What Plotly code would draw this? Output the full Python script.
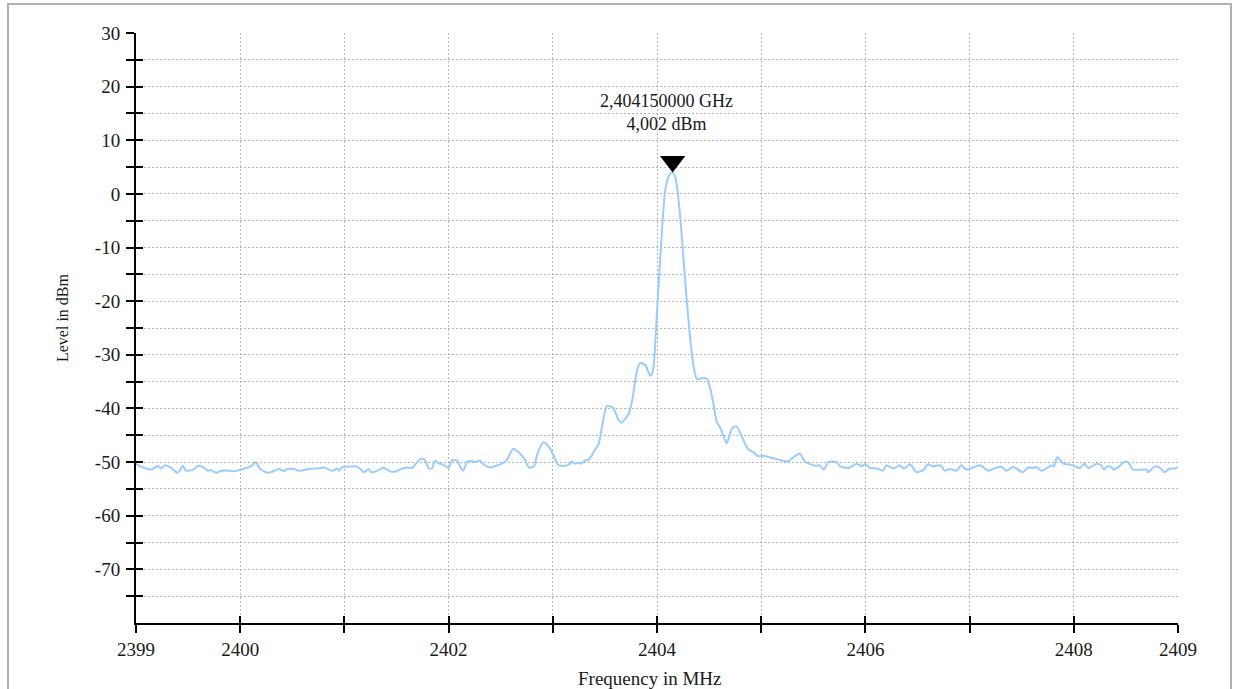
import plotly.graph_objects as go

# ---------------- data ----------------
freq_mhz = [
    2399.00, 2399.04, 2399.08, 2399.15, 2399.21, 2399.24, 2399.28, 2399.34, 2399.40, 2399.45,
    2399.48, 2399.55, 2399.60, 2399.65, 2399.69, 2399.72, 2399.77, 2399.82, 2399.90, 2399.95,
    2400.00, 2400.06, 2400.11, 2400.15, 2400.19, 2400.27, 2400.32, 2400.37, 2400.42, 2400.45,
    2400.52, 2400.56, 2400.66, 2400.77, 2400.81, 2400.85, 2400.89, 2400.93, 2400.95, 2400.98,
    2401.08, 2401.11, 2401.16, 2401.19, 2401.23, 2401.26, 2401.32, 2401.37, 2401.40, 2401.45,
    2401.50, 2401.53, 2401.60, 2401.65, 2401.69, 2401.73, 2401.76, 2401.78, 2401.81, 2401.84,
    2401.87, 2401.90, 2401.95, 2402.00, 2402.03, 2402.08, 2402.11, 2402.14, 2402.18, 2402.23,
    2402.26, 2402.30, 2402.34, 2402.40, 2402.47, 2402.52, 2402.56, 2402.62, 2402.68, 2402.73,
    2402.77, 2402.82, 2402.85, 2402.91, 2402.97, 2403.02, 2403.05, 2403.11, 2403.16, 2403.18,
    2403.21, 2403.24, 2403.27, 2403.31, 2403.35, 2403.39, 2403.44, 2403.47, 2403.52, 2403.58,
    2403.63, 2403.66, 2403.73, 2403.76, 2403.81, 2403.84, 2403.89, 2403.935, 2403.96, 2403.98,
    2404.00, 2404.03, 2404.055, 2404.075, 2404.10, 2404.125, 2404.15, 2404.175, 2404.20, 2404.225,
    2404.255, 2404.285, 2404.32, 2404.35, 2404.38, 2404.41, 2404.44, 2404.48, 2404.51, 2404.54,
    2404.575, 2404.61, 2404.64, 2404.67, 2404.72, 2404.76, 2404.80, 2404.85, 2404.88, 2404.93,
    2404.97, 2405.02, 2405.12, 2405.18, 2405.25, 2405.31, 2405.37, 2405.42, 2405.52, 2405.56,
    2405.60, 2405.645, 2405.725, 2405.757, 2405.837, 2405.917, 2405.965, 2406.00, 2406.045, 2406.11,
    2406.17, 2406.20, 2406.27, 2406.33, 2406.37, 2406.43, 2406.49, 2406.56, 2406.60, 2406.65,
    2406.72, 2406.76, 2406.81, 2406.875, 2406.92, 2406.97, 2407.02, 2407.10, 2407.18, 2407.26,
    2407.31, 2407.355, 2407.42, 2407.51, 2407.56, 2407.61, 2407.64, 2407.69, 2407.79, 2407.81,
    2407.84, 2407.90, 2407.98, 2408.01, 2408.06, 2408.10, 2408.14, 2408.22, 2408.26, 2408.29,
    2408.32, 2408.36, 2408.38, 2408.43, 2408.48, 2408.52, 2408.57, 2408.70, 2408.71, 2408.78,
    2408.83, 2408.87, 2408.92, 2408.97, 2409.00,
]

level_dbm = [
    -50.3, -50.8, -51.1, -51.4, -50.7, -51.2, -50.6, -51.1, -52.0, -50.7,
    -51.6, -51.4, -50.7, -51.0, -51.6, -51.5, -52.0, -51.6, -51.6, -51.7,
    -51.4, -51.1, -50.7, -50.0, -51.3, -52.0, -51.7, -51.3, -51.7, -51.3,
    -51.3, -51.6, -51.3, -51.1, -51.0, -51.4, -51.6, -51.2, -51.6, -50.9,
    -50.8, -50.8, -51.4, -51.9, -51.3, -51.9, -51.6, -51.0, -51.3, -51.8,
    -51.7, -51.4, -51.0, -51.1, -50.2, -49.4, -49.4, -49.9, -51.2, -51.2,
    -49.7, -50.2, -50.5, -51.1, -49.7, -49.7, -50.8, -51.6, -49.9, -49.8,
    -50.0, -49.7, -50.5, -51.0, -50.6, -50.2, -49.6, -47.5, -48.3, -49.5,
    -51.0, -50.8, -48.6, -46.3, -47.4, -49.3, -50.5, -50.7, -50.4, -49.9,
    -50.3, -50.1, -50.3, -49.7, -49.5, -48.2, -46.6, -43.7, -39.5, -39.9,
    -42.1, -42.6, -40.9, -38.7, -32.8, -31.5, -32.0, -33.9, -33.1, -29.1,
    -22.0, -12.3, -4.8, 0.1, 2.6, 3.7, 4.002, 3.2, 0.1, -4.8,
    -12.3, -19.8, -27.2, -32.0, -34.4, -34.5, -34.3, -34.5, -36.2, -39.0,
    -42.6, -43.7, -45.2, -46.5, -43.7, -43.3, -44.6, -46.8, -47.7, -48.2,
    -48.9, -48.8, -49.3, -49.6, -49.9, -49.1, -48.4, -49.9, -50.7, -50.6,
    -51.4, -50.0, -50.0, -50.8, -51.1, -50.3, -50.8, -50.3, -51.1, -51.2,
    -51.6, -50.6, -51.2, -50.6, -51.2, -50.4, -51.9, -51.4, -50.4, -50.8,
    -50.6, -51.6, -51.3, -51.6, -50.6, -51.4, -51.1, -50.6, -51.6, -51.0,
    -50.9, -51.6, -50.9, -51.9, -51.0, -51.1, -50.9, -51.6, -50.6, -50.8,
    -49.1, -50.3, -50.5, -50.8, -51.1, -50.3, -51.1, -50.3, -50.6, -51.4,
    -50.8, -50.9, -51.4, -50.9, -50.0, -50.0, -51.4, -51.4, -51.9, -50.8,
    -51.1, -51.9, -51.2, -51.2, -50.9,
]

x_tick_vals = [2399, 2400, 2401, 2402, 2403, 2404, 2405, 2406, 2407, 2408, 2409]
x_tick_text = ["2399", "2400", "", "2402", "", "2404", "", "2406", "", "2408", "2409"]
y_tick_vals = [-75, -70, -65, -60, -55, -50, -45, -40, -35, -30, -25, -20, -15, -10, -5,
               0, 5, 10, 15, 20, 25, 30]
y_tick_text = ["", "-70", "", "-60", "", "-50", "", "-40", "", "-30", "", "-20", "", "-10", "",
               "0", "", "10", "", "20", "", "30"]
x_range = [2399, 2409]
y_range = [-80, 30]

# ---------------- layout geometry ----------------
W, H = 1233, 689
ML, MR, MT, MB = 136, 55, 33, 66
PW, PH = W - ML - MR, H - MT - MB

FONT = "Liberation Serif, Times New Roman, serif"
TXT = "#1a1a1a"
GRID = "#b5b5b5"
TRACE = "#99ccff"

# peak marker
i_pk = max(range(len(level_dbm)), key=lambda i: level_dbm[i])
pk_f, pk_l = freq_mhz[i_pk], level_dbm[i_pk]
mk_size = 22
px_per_db = PH / (y_range[1] - y_range[0])
mk_y = pk_l + (mk_size / 2) / px_per_db

fig = go.Figure()
fig.add_trace(go.Scatter(
    x=freq_mhz, y=level_dbm, mode="lines",
    line=dict(color=TRACE, width=2, shape="spline", smoothing=0.6),
    hoverinfo="skip", showlegend=False,
))
fig.add_trace(go.Scatter(
    x=[pk_f], y=[mk_y], mode="markers",
    marker=dict(symbol="triangle-down", size=mk_size, color="black", line=dict(width=0)),
    hoverinfo="skip", showlegend=False,
))
# invisible trace for the overlay axes (to draw the inner half of crossing ticks)
fig.add_trace(go.Scatter(x=[x_range[0]], y=[y_range[0]], xaxis="x2", yaxis="y2",
                         mode="markers", marker=dict(opacity=0), hoverinfo="skip",
                         showlegend=False))

axis_common = dict(showline=True, linecolor="black", linewidth=2, zeroline=False,
                   ticks="outside", ticklen=8, tickwidth=2, tickcolor="black",
                   showgrid=True, gridcolor=GRID, gridwidth=1, griddash="2px,2px",
                   tickfont=dict(family=FONT, size=19, color=TXT))

fig.update_layout(
    width=W, height=H,
    margin=dict(l=ML, r=MR, t=MT, b=MB, pad=0),
    paper_bgcolor="white", plot_bgcolor="white",
    showlegend=False,
    xaxis=dict(range=x_range, tickmode="array", tickvals=x_tick_vals, ticktext=x_tick_text,
               ticklabelstandoff=0, **axis_common),
    yaxis=dict(range=y_range, tickmode="array", tickvals=y_tick_vals, ticktext=y_tick_text,
               ticklabelstandoff=2, **axis_common),
    xaxis2=dict(range=x_range, overlaying="x", anchor="y", side="bottom",
                tickmode="array", tickvals=x_tick_vals, showticklabels=False,
                ticks="inside", ticklen=7, tickwidth=2, tickcolor="black",
                showgrid=False, zeroline=False, showline=False),
    yaxis2=dict(range=y_range, overlaying="y", anchor="x", side="left",
                tickmode="array", tickvals=y_tick_vals, showticklabels=False,
                ticks="inside", ticklen=7, tickwidth=2, tickcolor="black",
                showgrid=False, zeroline=False, showline=False),
)

# outer frame
fig.add_shape(type="rect", xref="paper", yref="paper",
              x0=(8 - ML) / PW, x1=(1231 - ML) / PW,
              y0=(H - MB - 720) / PH, y1=(H - MB - 4) / PH,
              line=dict(color="#b0b0b0", width=2), fillcolor="rgba(0,0,0,0)", layer="below")

# axis titles
fig.add_annotation(text="Frequency in MHz", xref="paper", yref="paper",
                   x=(650 - ML) / PW, y=(H - MB - 678) / PH,
                   xanchor="center", yanchor="middle", showarrow=False,
                   font=dict(family=FONT, size=19, color=TXT))
fig.add_annotation(text="Level in dBm", xref="paper", yref="paper",
                   x=(62 - ML) / PW, y=(H - MB - 318) / PH, textangle=-90,
                   xanchor="center", yanchor="middle", showarrow=False,
                   font=dict(family=FONT, size=16, color=TXT))

# peak label
ghz_txt = f"{pk_f / 1000:.9f}".replace(".", ",") + " GHz"
dbm_txt = f"{pk_l:.3f}".replace(".", ",") + " dBm"
fig.add_annotation(text=f"{ghz_txt}<br>{dbm_txt}", x=pk_f, y=pk_l, xref="x", yref="y",
                   xanchor="center", yanchor="bottom", showarrow=False,
                   xshift=-6, yshift=36, align="center",
                   font=dict(family=FONT, size=18, color=TXT))

fig.write_html("out.html")
